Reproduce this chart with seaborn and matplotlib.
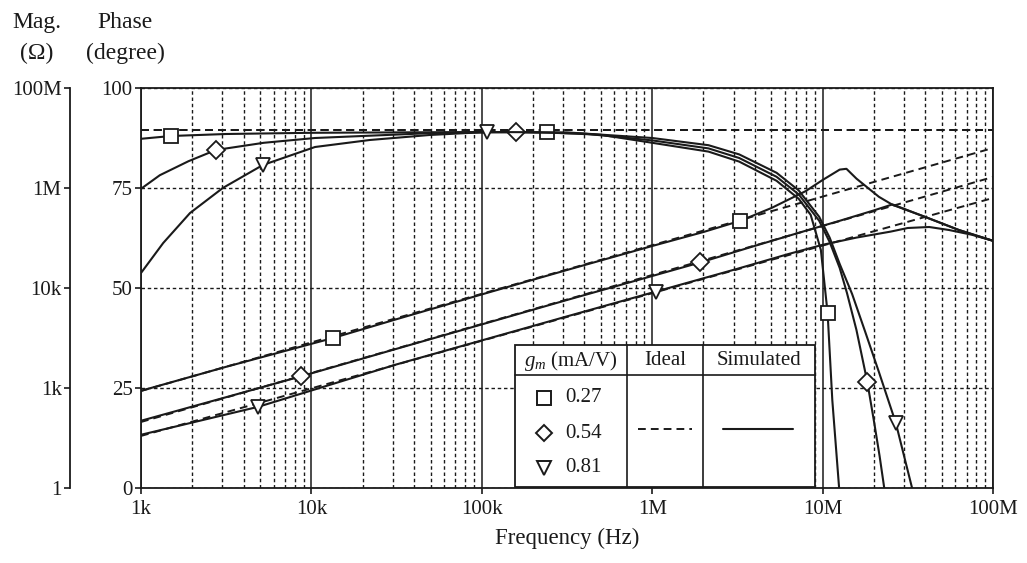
import matplotlib
matplotlib.use("Agg")
import matplotlib.pyplot as plt
import seaborn as sns
from matplotlib.ticker import FixedLocator, FixedFormatter, NullLocator, LogLocator, NullFormatter
from matplotlib.patches import Rectangle
from matplotlib.lines import Line2D

# ---------------------------------------------------------------- data
gm_values = ["0.27", "0.54", "0.81"]
gm_markers = ["s", "D", "v"]

freq_ticks = [1e3, 1e4, 1e5, 1e6, 1e7, 1e8]
freq_ticklabels = ["1k", "10k", "100k", "1M", "10M", "100M"]
phase_ticks = [0, 25, 50, 75, 100]
phase_ticklabels = ["0", "25", "50", "75", "100"]
mag_ticks = [1, 1e2, 1e4, 1e6, 1e8]
mag_ticklabels = ["1", "1k", "10k", "1M", "100M"]

# ideal inductor (dashed)
freq_ideal = [1e3, 1e8]
phase_ideal = [89.5, 89.5]
mag_ideal_027 = [87.1, 6.31e6]
mag_ideal_054 = [20.9, 1.66e6]
mag_ideal_081 = [11.0, 6.31e5]

# simulated phase (degree)
freq_ph_027 = [1e3, 1.5e3, 3.16e3, 10e3, 100e3, 240e3, 500e3, 1e6, 2.14e6, 3.24e6,
               5.37e6, 7.24e6, 8.51e6, 9.77e6, 10.7e6, 11.4e6, 12.5e6]
phase_027 = [87.3, 88.0, 88.5, 88.8, 89.0, 88.9, 88.3, 86.3, 84.1, 81.6,
             76.8, 72.3, 68.3, 59.5, 43.75, 22.0, 0.0]

freq_ph_054 = [1e3, 1.29e3, 1.9e3, 2.75e3, 5.25e3, 10.5e3, 49e3, 158e3, 398e3, 1e6,
               2.14e6, 3.24e6, 5.37e6, 7.24e6, 9.55e6, 11.0e6, 12.6e6, 13.9e6, 15.8e6,
               18.3e6, 20.1e6, 21.6e6, 23.0e6]
phase_054 = [74.8, 78.2, 81.7, 84.5, 86.3, 87.5, 88.7, 89.0, 88.6, 86.9,
             84.9, 82.5, 77.8, 73.4, 66.8, 61.5, 55.0, 48.75, 39.5,
             26.5, 16.25, 8.0, 0.0]

freq_ph_081 = [1e3, 1.35e3, 1.94e3, 3.02e3, 5.19e3, 10.5e3, 22e3, 49.4e3, 107e3, 316e3,
               1e6, 2.14e6, 3.24e6, 5.37e6, 7.24e6, 9.55e6, 11.0e6, 12.6e6, 14.9e6,
               17.8e6, 21.4e6, 26.9e6, 33.5e6]
phase_081 = [53.75, 61.25, 68.75, 75.0, 80.75, 85.25, 87.0, 88.25, 89.0, 88.9,
             87.5, 85.7, 83.4, 78.8, 74.4, 67.8, 62.6, 56.0, 48.5,
             39.0, 29.0, 16.25, 0.0]

# simulated magnitude (ohm)
freq_mag_027 = [1e3, 3.16e3, 13.4e3, 31.6e3, 100e3, 316e3, 1e6, 2e6, 3.29e6, 5.01e6,
                7.94e6, 10e6, 12.6e6, 13.8e6, 15.8e6, 21.4e6, 25.7e6, 39.8e6, 63.1e6, 100e6]
mag_027 = [87.9, 265.5, 1000, 2377, 7447, 22900, 69200, 131800, 220800, 398100,
           863000, 1.445e6, 2.333e6, 2.421e6, 1.54e6, 666800, 461300, 265500, 144500, 87900]

freq_mag_054 = [1e3, 3.16e3, 8.67e3, 31.6e3, 100e3, 316e3, 1e6, 1.92e6, 3.98e6, 7.94e6,
                12.6e6, 20e6, 25.7e6, 39.8e6, 63.1e6, 100e6]
mag_054 = [22.1, 65.5, 170.6, 608, 1871, 5754, 17380, 32510, 69180, 139300,
           220800, 356500, 469900, 265500, 144500, 87900]

freq_mag_081 = [1e3, 4.88e3, 31.6e3, 100e3, 316e3, 1.05e6, 3.16e6, 6.31e6, 10e6, 15.8e6,
                25.1e6, 31.6e6, 42.2e6, 55.2e6, 75.3e6, 100e6]
mag_081 = [11.6, 42.1, 296.5, 895, 2704, 8472, 24210, 47860, 73110, 101900,
           134300, 158500, 166000, 144500, 115900, 87900]

# indices of the points that carry a symbol
mark_ph = [[1, 5, 14], [3, 7, 19], [4, 8, 21]]
mark_mag = [[2, 8], [2, 7], [1, 5]]

# ---------------------------------------------------------------- style
sns.set_style("ticks")
plt.rcParams["font.family"] = ["Liberation Serif", "DejaVu Serif"]
plt.rcParams["mathtext.fontset"] = "custom"
plt.rcParams["mathtext.rm"] = "Liberation Serif"
plt.rcParams["mathtext.it"] = "Liberation Serif:italic"
INK = "#1a1a1a"
LW = 1.5
DOT = (0, (2.5, 2.0))
DASH = (0, (4.0, 2.6))
MSIZE = {"s": 10, "D": 9, "v": 10.5}

W, H = 1027, 563
fig = plt.figure(figsize=(W / 100, H / 100), dpi=100)
L, R, T, B = 141, 993, 88, 488
ax = fig.add_axes([L / W, 1 - B / H, (R - L) / W, (B - T) / H])
ax.set_xscale("log")
ax.set_xlim(1e3, 1e8)
ax.set_ylim(0, 100)

ax2 = ax.twinx()
ax2.set_yscale("log")
ax2.set_ylim(1, 1e8)


def curve(axis, f, v, marker=None, markevery=None, dashed=False):
    kw = dict(color=INK, lw=LW if not dashed else 1.4, ax=axis, sort=False)
    if dashed:
        kw["linestyle"] = DASH
    if marker is not None:
        kw.update(marker=marker, markevery=markevery, markersize=MSIZE[marker],
                  markerfacecolor="white", markeredgecolor=INK, markeredgewidth=1.3)
    sns.lineplot(x=f, y=v, **kw)


# ideal curves
for m in (mag_ideal_027, mag_ideal_054, mag_ideal_081):
    curve(ax2, freq_ideal, m, dashed=True)
    curve(ax, freq_ideal, phase_ideal, dashed=True)

# simulated phase
for f, p, mk, idx in zip((freq_ph_027, freq_ph_054, freq_ph_081),
                         (phase_027, phase_054, phase_081), gm_markers, mark_ph):
    curve(ax, f, p, marker=mk, markevery=idx)

# simulated magnitude
for f, m, mk, idx in zip((freq_mag_027, freq_mag_054, freq_mag_081),
                         (mag_027, mag_054, mag_081), gm_markers, mark_mag):
    curve(ax2, f, m, marker=mk, markevery=idx)

# ---------------------------------------------------------------- axes
ax.xaxis.set_major_locator(FixedLocator(freq_ticks))
ax.xaxis.set_major_formatter(FixedFormatter(freq_ticklabels))
ax.xaxis.set_minor_locator(LogLocator(base=10, subs=range(2, 10), numticks=20))
ax.xaxis.set_minor_formatter(NullFormatter())
ax.yaxis.set_major_locator(FixedLocator(phase_ticks))
ax.yaxis.set_major_formatter(FixedFormatter(phase_ticklabels))

ax.grid(which="major", axis="x", color=INK, lw=1.1, ls="-")
ax.grid(which="minor", axis="x", color=INK, lw=1.0, ls=DOT)
ax.grid(which="major", axis="y", color=INK, lw=1.0, ls=DOT)
ax.set_axisbelow(True)

for s in ax.spines.values():
    s.set_visible(True)
    s.set_linewidth(1.3)
    s.set_color(INK)

ax.tick_params(which="major", direction="out", length=4, width=1.2, color=INK,
               labelsize=15, labelcolor=INK)
ax.tick_params(axis="x", which="major", pad=5)
ax.tick_params(axis="y", which="major", pad=2)
ax.tick_params(which="minor", length=0)
ax.set_xlabel("Frequency (Hz)", fontsize=16.5, color=INK, labelpad=6)
ax.set_ylabel("")

ax2.yaxis.tick_left()
for side in ("right", "top", "bottom"):
    ax2.spines[side].set_visible(False)
ax2.spines["left"].set_visible(True)
ax2.spines["left"].set_position(("outward", 71 * 0.72))
ax2.spines["left"].set_linewidth(1.3)
ax2.spines["left"].set_color(INK)
ax2.yaxis.set_major_locator(FixedLocator(mag_ticks))
ax2.yaxis.set_major_formatter(FixedFormatter(mag_ticklabels))
ax2.yaxis.set_minor_locator(NullLocator())
ax2.tick_params(axis="y", which="major", direction="out", length=4, width=1.2, color=INK,
                labelsize=15, labelcolor=INK, pad=2, left=True, right=False,
                labelleft=True, labelright=False)
ax2.set_ylabel("")

# axis headings
fig.text(37 / W, 1 - 28 / H, "Mag.", ha="center", va="baseline", fontsize=17, color=INK)
fig.text(37 / W, 1 - 59 / H, "(\u03a9)", ha="center", va="baseline", fontsize=17, color=INK)
fig.text(125 / W, 1 - 28 / H, "Phase", ha="center", va="baseline", fontsize=17, color=INK)
fig.text(125 / W, 1 - 59 / H, "(degree)", ha="center", va="baseline", fontsize=17, color=INK)

# ---------------------------------------------------------------- legend table
tr = ax2.transAxes
x0, x1, y0, y1 = 0.439, 0.791, 0.003, 0.3575
xa, xb, yh = 0.5704, 0.6596, 0.2825
ax2.add_patch(Rectangle((x0, y0), x1 - x0, y1 - y0, transform=tr, facecolor="white",
                        edgecolor=INK, lw=1.3, zorder=10))
for xs, ys in (([x0, x1], [yh, yh]), ([xa, xa], [y0, y1]), ([xb, xb], [y0, y1])):
    ax2.add_line(Line2D(xs, ys, transform=tr, color=INK, lw=1.2, zorder=11))

head_y = 0.318
ax2.text((x0 + xa) / 2, head_y, "$g_m$ (mA/V)", transform=tr, ha="center", va="center",
         fontsize=15, color=INK, zorder=12)
ax2.text((xa + xb) / 2, head_y, "Ideal", transform=tr, ha="center", va="center",
         fontsize=15, color=INK, zorder=12)
ax2.text((xb + x1) / 2, head_y, "Simulated", transform=tr, ha="center", va="center",
         fontsize=15, color=INK, zorder=12)

row_y = [0.225, 0.1375, 0.05]
for gy, label, mk in zip(row_y, gm_values, gm_markers):
    ax2.add_line(Line2D([0.473], [gy], transform=tr, marker=mk, linestyle="none",
                        markersize=MSIZE[mk] - 0.5, markerfacecolor="white",
                        markeredgecolor=INK, markeredgewidth=1.4, zorder=12))
    ax2.text(0.4977, gy, label, transform=tr, ha="left", va="center", fontsize=15,
             color=INK, zorder=12)

ax2.add_line(Line2D([0.5833, 0.6467], [0.1475, 0.1475], transform=tr, color=INK, lw=1.4,
                    linestyle=DASH, zorder=12))
ax2.add_line(Line2D([0.683, 0.765], [0.1475, 0.1475], transform=tr, color=INK, lw=1.5,
                    zorder=12))

fig.savefig("out.png", dpi=100)
